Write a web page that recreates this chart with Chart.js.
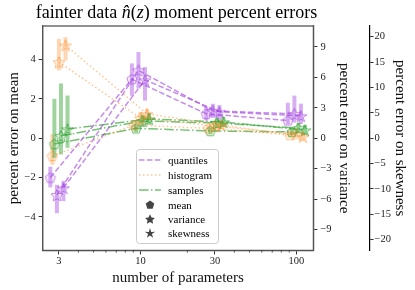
<!DOCTYPE html>
<html><head><meta charset="utf-8">
<script src="https://cdn.jsdelivr.net/npm/chart.js@4.4.0/dist/chart.umd.min.js"></script>
<style>
html,body{margin:0;padding:0;background:#fff;}
#wrap{position:relative;width:415px;height:290px;}
#legend{position:absolute;left:136px;top:149px;}
#title{position:absolute;left:0;top:1px;width:353px;text-align:center;font-family:'Liberation Serif',serif;font-size:18px;line-height:22px;color:#000;white-space:nowrap;}
</style></head>
<body><div id="wrap"><canvas id="c" width="415" height="290"></canvas>
<div id="title">fainter data <i>n&#770;</i>(<i>z</i>) moment percent errors</div>
<svg id="legend" width="83" height="95" xmlns="http://www.w3.org/2000/svg" font-family="'Liberation Serif', serif" font-size="11">
<rect x="0.5" y="0.5" width="82" height="94" rx="3" fill="rgba(255,255,255,0.8)" stroke="#cccccc" stroke-width="1"/>
<line x1="3" y1="11" x2="25" y2="11" stroke="rgba(160,64,224,0.6)" stroke-width="1.5" stroke-dasharray="5.5,2.4"/>
<text x="32" y="14.5">quantiles</text>
<line x1="3" y1="26" x2="25" y2="26" stroke="rgba(255,127,14,0.45)" stroke-width="1.5" stroke-dasharray="1.5,2.5"/>
<text x="32" y="29.5">histogram</text>
<line x1="3" y1="41" x2="25" y2="41" stroke="rgba(44,160,44,0.65)" stroke-width="1.5" stroke-dasharray="9.6,2.4,1.5,2.4"/>
<text x="32" y="44.5">samples</text>
<polygon id="lgPent" fill="#444" points=""/>
<text x="32" y="59.5">mean</text>
<polygon id="lgVar" fill="#444" points=""/>
<text x="32" y="73.5">variance</text>
<polygon id="lgSkew" fill="#444" points=""/>
<text x="32" y="87.5">skewness</text>
</svg>
</div>
<script>
// ---------------- data ----------------
const params = [3, 10, 30, 100];
const meanTicks = [-4, -2, 0, 2, 4];
const varTicks = [-9, -6, -3, 0, 3, 6, 9];
const skewTicks = [-20, -15, -10, -5, 0, 5, 10, 15, 20];
const xTicks = [3, 10, 30, 100];

const quantilesMean   = [-2.0, 3.0, 1.24, 0.9];
const quantilesMeanLo = [-2.5, 2.16, 0.9, 0.7];
const quantilesMeanHi = [-1.45, 3.8, 1.6, 1.8];
const quantilesVar    = [-5.6, 6.7, 2.7, 2.4];
const quantilesVarLo  = [-7.4, 4.9, 2.0, 1.55];
const quantilesVarHi  = [-4.6, 8.5, 3.4, 4.2];
const quantilesSkew   = [-9.8, 11.5, 5.2, 4.4];
const quantilesSkewLo = [-12.4, 7.4, 3.5, 2.8];
const quantilesSkewHi = [-8.4, 14.0, 6.5, 6.8];

const histogramMean   = [-0.9, 0.67, 0.5, 0.17];
const histogramMeanLo = [-1.35, 0.45, 0.35, 0.05];
const histogramMeanHi = [0.2, 0.9, 0.65, 0.3];
const histogramVar    = [7.5, 2.0, 1.2, 0.4];
const histogramVarLo  = [6.7, 1.4, 0.8, 0.1];
const histogramVarHi  = [9.8, 2.6, 1.6, 0.7];
const histogramSkew   = [18.3, 4.8, 2.6, 0.3];
const histogramSkewLo = [15.3, 3.8, 1.8, -0.5];
const histogramSkewHi = [19.9, 5.8, 3.4, 1.1];

const samplesMean   = [-0.3, 0.5, 0.37, 0.32];
const samplesMeanLo = [-1.0, 0.3, 0.2, 0.15];
const samplesMeanHi = [2.0, 0.7, 0.55, 0.5];
const samplesVar    = [0.23, 1.7, 1.5, 1.0];
const samplesVarLo  = [-1.6, 1.1, 1.0, 0.5];
const samplesVarHi  = [5.4, 2.3, 2.0, 1.5];
const samplesSkew   = [1.8, 3.8, 3.2, 1.6];
const samplesSkewLo = [-1.9, 2.6, 2.2, 0.6];
const samplesSkewHi = [8.4, 5.0, 4.2, 2.6];

// ---------------- styles ----------------
const SERIF = "'Liberation Serif', 'DejaVu Serif', serif";
const methodStyle = {
  quantiles: {rgb: '160,64,224', a: 0.6, dash: [5.5, 2.4]},
  histogram: {rgb: '255,127,14', a: 0.45, dash: [1.5, 2.5]},
  samples:   {rgb: '44,160,44', a: 0.65, dash: [9.6, 2.4, 1.5, 2.4]}
};
const momentShift = {mean: -0.042, variance: 0, skewness: 0.042};
const methodShift = {quantiles: -0.013, histogram: 0, samples: 0.013};
const momentAxis = {mean: 'yMean', variance: 'yVar', skewness: 'ySkew'};

function shapePoints(shape, cx, cy, r) {
  const pts = [];
  if (shape === 'mean') {
    for (let i = 0; i < 5; i++) {
      const a = -Math.PI / 2 + i * 2 * Math.PI / 5;
      pts.push([cx + r * Math.cos(a), cy + r * Math.sin(a)]);
    }
  } else {
    const inner = shape === 'variance' ? 0.5 : 0.36;
    for (let i = 0; i < 10; i++) {
      const a = -Math.PI / 2 + i * Math.PI / 5;
      const rr = i % 2 === 0 ? r : r * inner;
      pts.push([cx + rr * Math.cos(a), cy + rr * Math.sin(a)]);
    }
  }
  return pts;
}
function markerCanvas(shape, rgb, a) {
  const s = 16, c = document.createElement('canvas');
  c.width = s; c.height = s;
  const g = c.getContext('2d');
  const r = shape === 'mean' ? 5.3 : 6.2;
  const pts = shapePoints(shape, s / 2, s / 2 + (shape === 'mean' ? 0.5 : 0.8), r);
  g.beginPath();
  pts.forEach((p, i) => i ? g.lineTo(p[0], p[1]) : g.moveTo(p[0], p[1]));
  g.closePath();
  g.fillStyle = 'rgba(' + rgb + ',0.08)';
  g.fill();
  g.strokeStyle = 'rgba(' + rgb + ',' + a + ')';
  g.lineWidth = 1;
  g.stroke();
  return c;
}
// legend markers
[['lgPent', 'mean', 4.5, 56], ['lgVar', 'variance', 5.2, 70.5], ['lgSkew', 'skewness', 5.4, 84.5]].forEach(([id, sh, r, y]) => {
  document.getElementById(id).setAttribute('points', shapePoints(sh, 14, y, r).map(p => p[0].toFixed(2) + ',' + p[1].toFixed(2)).join(' '));
});

const series = {
  quantiles: {
    mean: [quantilesMean, quantilesMeanLo, quantilesMeanHi],
    variance: [quantilesVar, quantilesVarLo, quantilesVarHi],
    skewness: [quantilesSkew, quantilesSkewLo, quantilesSkewHi]},
  histogram: {
    mean: [histogramMean, histogramMeanLo, histogramMeanHi],
    variance: [histogramVar, histogramVarLo, histogramVarHi],
    skewness: [histogramSkew, histogramSkewLo, histogramSkewHi]},
  samples: {
    mean: [samplesMean, samplesMeanLo, samplesMeanHi],
    variance: [samplesVar, samplesVarLo, samplesVarHi],
    skewness: [samplesSkew, samplesSkewLo, samplesSkewHi]}
};

const datasets = [];
Object.keys(series).forEach(method => {
  const st = methodStyle[method];
  Object.keys(series[method]).forEach(moment => {
    const [vals, lo, hi] = series[method][moment];
    datasets.push({
      label: method + ' ' + moment,
      yAxisID: momentAxis[moment],
      data: params.map((p, i) => ({x: p * Math.pow(10, momentShift[moment] + methodShift[method]), y: vals[i]})),
      errLo: lo, errHi: hi,
      errColor: 'rgba(' + st.rgb + ',' + (st.a * 0.7) + ')',
      borderColor: 'rgba(' + st.rgb + ',' + st.a + ')',
      borderWidth: 1.5,
      borderDash: st.dash,
      fill: false,
      tension: 0,
      pointStyle: markerCanvas(moment, st.rgb, st.a),
      pointRadius: 6
    });
  });
});

const errorBars = {
  id: 'errorBars',
  beforeDatasetsDraw(chart) {
    const ctx = chart.ctx;
    chart.data.datasets.forEach((ds, di) => {
      const meta = chart.getDatasetMeta(di);
      const ys = chart.scales[ds.yAxisID];
      ctx.save();
      ctx.strokeStyle = ds.errColor;
      ctx.lineWidth = 4;
      ctx.lineCap = 'butt';
      meta.data.forEach((pt, i) => {
        ctx.beginPath();
        ctx.moveTo(pt.x, ys.getPixelForValue(ds.errLo[i]));
        ctx.lineTo(pt.x, ys.getPixelForValue(ds.errHi[i]));
        ctx.stroke();
      });
      ctx.restore();
    });
  }
};
const frame = {
  id: 'frame',
  afterDraw(chart) {
    const a = chart.chartArea, ctx = chart.ctx, xs = chart.scales.x;
    ctx.save();
    ctx.strokeStyle = '#555';
    ctx.lineWidth = 1.3;
    ctx.strokeRect(a.left, a.top, a.right - a.left, a.bottom - a.top);
    ctx.strokeStyle = '#000';
    ctx.lineWidth = 0.6;
    [4, 5, 6, 7, 8, 9, 20, 40, 50, 60, 70, 80, 90].forEach(v => {
      const px = xs.getPixelForValue(v);
      ctx.beginPath();
      ctx.moveTo(px, a.bottom);
      ctx.lineTo(px, a.bottom + 2.2);
      ctx.stroke();
    });
    ctx.restore();
  }
};

const fmt = v => (v < 0 ? '\u2212' + Math.abs(v) : String(v));
const tickFont = {family: SERIF, size: 10.5};
const titleFont = {family: SERIF, size: 15, lineHeight: 1};
function yAxis(pos, min, max, ticks, title, weight, borderColor, tpad, tickPad) {
  return {
    type: 'linear', position: pos, min: min, max: max, weight: weight,
    afterBuildTicks: s => { s.ticks = ticks.map(v => ({value: v})); },
    ticks: {callback: fmt, font: tickFont, color: '#222', padding: tickPad},
    grid: {drawOnChartArea: false, tickLength: 4, color: '#000', tickWidth: 0.8},
    border: {color: borderColor, width: 1.2},
    title: {display: true, text: title, font: titleFont, color: '#111', padding: tpad}
  };
}

new Chart(document.getElementById('c'), {
  type: 'line',
  data: {datasets: datasets},
  options: {
    responsive: false, animation: false, devicePixelRatio: 1,
    layout: {padding: {left: 3, right: 8, top: 26, bottom: 4}},
    plugins: {legend: {display: false}, tooltip: {enabled: false}, title: {display: false}},
    scales: {
      x: {
        type: 'logarithmic', min: 2.36, max: 128.5,
        afterBuildTicks: s => { s.ticks = xTicks.map(v => ({value: v})); },
        ticks: {callback: v => String(v), font: tickFont, color: '#222', padding: 1, maxRotation: 0, autoSkip: false},
        grid: {drawOnChartArea: false, tickLength: 4, color: '#000', tickWidth: 0.8},
        border: {color: '#555', width: 1.2},
        title: {display: true, text: 'number of parameters', font: titleFont, color: '#111', padding: {top: 2, bottom: 0}}
      },
      yMean: yAxis('left', -5.7, 5.7, meanTicks, 'percent error on mean', 0, '#555', {top: 3.5, bottom: 0}, 3),
      yVar: yAxis('right', -11.07, 11.07, varTicks, 'percent error on variance', 0, '#555', {top: 18.5, bottom: 1.5}, 3),
      ySkew: yAxis('right', -22.1, 22.1, skewTicks, 'percent error on skewness', 1, '#000', {top: 0, bottom: 0}, 1)
    }
  },
  plugins: [errorBars, frame]
});
</script>
</body></html>
